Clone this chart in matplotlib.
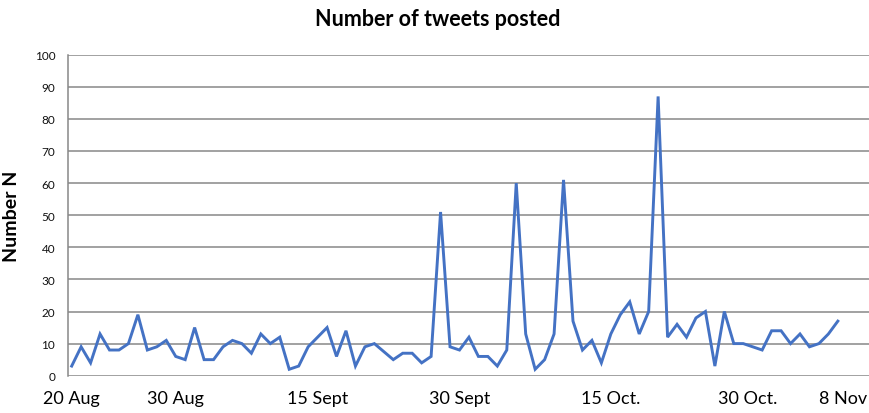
import matplotlib
matplotlib.use("Agg")
import matplotlib.pyplot as plt

plt.rcParams['font.family'] = ['Lato', 'DejaVu Sans']

# Daily number of tweets
tweets = [3, 9, 4, 13, 8, 8, 10, 19, 8, 9,
          11, 6, 5, 15, 5, 5, 9, 11, 10, 7,
          13, 10, 12, 2, 3, 9, 12, 15, 6, 14,
          3, 9, 10, 7.5, 5, 7, 7, 4, 6, 51,
          9, 8, 12, 6, 6, 3, 8, 60, 13, 2,
          5, 13, 61, 17, 8, 11, 4, 13, 19, 23,
          13, 20, 87, 12, 16, 12, 18, 20, 3, 20,
          10, 10, 9, 8, 14, 14, 10, 13, 9, 10,
          13, 17]
tick_labels = ['20 Aug', '30 Aug', '15 Sept', '30 Sept', '15 Oct.', '30 Oct.', '8 Nov']
tick_index = [0, 11, 26, 41, 57, 71.5, 81.5]
y_ticks = list(range(0, 101, 10))

W, H = 870, 414
fig = plt.figure(figsize=(W / 100, H / 100), dpi=100)
ax = fig.add_axes([67.7 / W, 1 - 376.7 / H, (W - 67.7) / W, (376.7 - 55.7) / H])

x = list(range(len(tweets)))
ax.plot(x, tweets, color='#4472C4', lw=2.1, solid_joinstyle='miter', zorder=3)

ax.set_xlim(-0.42, 84.4)
ax.set_ylim(0, 100)
ax.set_yticks(y_ticks)
ax.set_xticks(tick_index)
ax.set_xticklabels(tick_labels)
ax.grid(axis='y', color='#888888', lw=1.1, zorder=1)
ax.set_axisbelow(True)
for s in ['top', 'right', 'bottom']:
    ax.spines[s].set_visible(False)
ax.spines['left'].set_color('#888888')
ax.spines['left'].set_linewidth(1.1)

ax.tick_params(axis='y', length=0, pad=9, labelsize=8.5, labelcolor='#111111')
ax.tick_params(axis='x', length=0, pad=10, labelsize=13, labelcolor='#000000')

ax.set_ylabel('Number N', fontsize=14, fontweight='bold')
ax.yaxis.set_label_coords(-0.0595, 0.5)

fig.text(438 / W, 1 - 20 / H, 'Number of tweets posted', ha='center', va='center',
         fontsize=15.5, fontweight='bold')

fig.savefig('out.png', dpi=100)
